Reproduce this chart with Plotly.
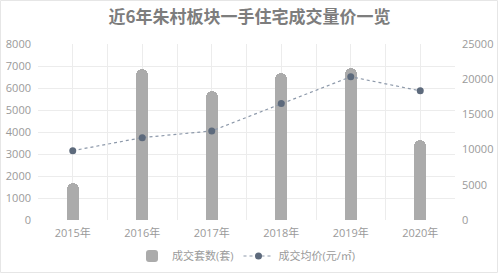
import plotly.graph_objects as go

years = ["2015年", "2016年", "2017年", "2018年", "2019年", "2020年"]
volume = [1700, 6850, 5870, 6700, 6900, 3650]
price = [9850, 11700, 12650, 16550, 20350, 18350]
left_ticks = [0, 1000, 2000, 3000, 4000, 5000, 6000, 7000, 8000]
right_ticks = [0, 5000, 10000, 15000, 20000, 25000]

xs = list(range(len(years)))
W, H = 499, 274
ml, mr, mt, mb = 38, 44, 44, 54

fig = go.Figure()
fig.add_trace(go.Bar(
    x=xs, y=volume, name="成交套数(套)", width=0.17,
    marker=dict(color="#ababab", cornerradius=6, line=dict(width=0)),
    yaxis="y",
))
fig.add_trace(go.Scatter(
    x=xs, y=price, name="成交均价(元/㎡)", mode="lines+markers",
    line=dict(color="#8d99aa", width=1.2, dash="3px,3px"),
    marker=dict(color="#5d6a7c", size=7),
    yaxis="y2",
))

grid = "#ececec"
tickfont = dict(family="Open Sans, Noto Sans CJK SC", size=11, color="#9a9a9a")
fig.update_layout(
    width=W, height=H,
    margin=dict(l=ml, r=mr, t=mt, b=mb, autoexpand=False),
    paper_bgcolor="white", plot_bgcolor="white",
    title=dict(text="<b>近6年朱村板块一手住宅成交量价一览</b>", x=0.5, xanchor="center",
               y=1 - 17 / H, yanchor="middle",
               font=dict(family="Noto Sans CJK SC", size=17, color="#7d7d7d")),
    xaxis=dict(range=[-0.5, 5.5], tickmode="array", tickvals=xs, ticktext=years,
               showgrid=True, gridcolor=grid, gridwidth=1, zeroline=False,
               showline=False, ticks="", tickfont=tickfont, ticklabelstandoff=5,
               minor=dict(tickvals=[i - 0.5 for i in range(len(years) + 1)],
                          showgrid=True, gridcolor=grid, gridwidth=1, ticks="")),
    yaxis=dict(range=[0, 8000], tickmode="array", tickvals=left_ticks,
               showgrid=True, gridcolor=grid, zeroline=False, showline=False,
               tickfont=tickfont, ticklabelstandoff=6),
    yaxis2=dict(range=[0, 25000], tickmode="array", tickvals=right_ticks,
                ticktext=[str(v) for v in right_ticks],
                overlaying="y", side="right", showgrid=False, zeroline=False,
                showline=False, tickfont=tickfont, ticklabelstandoff=6),
    legend=dict(orientation="h", x=0.5, xanchor="center", y=-(256 - (H - mb)) / (H - mt - mb),
                yanchor="middle", font=dict(family="Open Sans, Noto Sans CJK SC", size=11, color="#9a9a9a"),
                bgcolor="rgba(0,0,0,0)", itemwidth=30),
    showlegend=True,
    bargap=0,
)

# light outer frame
pw = W - ml - mr
ph = H - mt - mb
fig.add_shape(type="rect", xref="paper", yref="paper",
              x0=(0.5 - ml) / pw, x1=(W - 1.5 - ml) / pw,
              y0=-(mb - 1.5) / ph, y1=1 + (mt - 0.5) / ph,
              line=dict(color="#e6e6e6", width=1), layer="below")

fig.write_html("out.html")
